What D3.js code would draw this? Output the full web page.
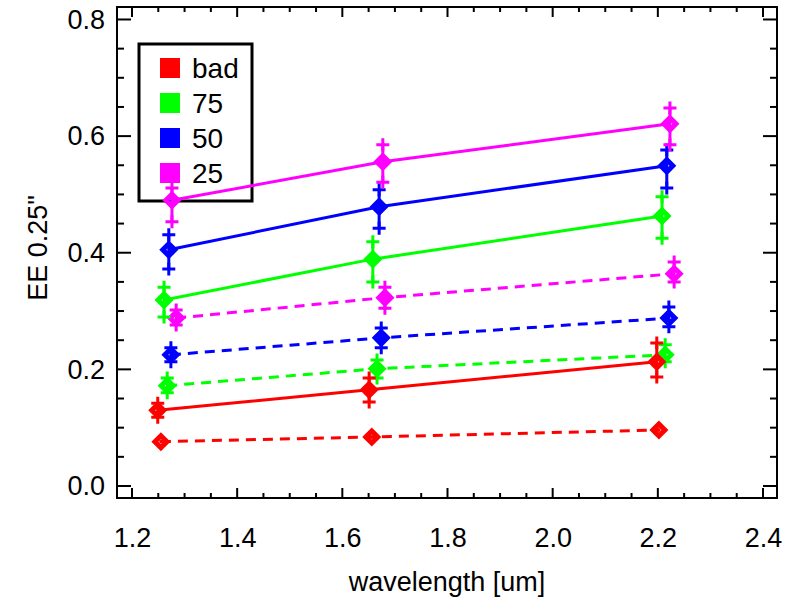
<!DOCTYPE html>
<html>
<head>
<meta charset="utf-8">
<script src="https://cdn.jsdelivr.net/npm/d3@7"></script>
<style>
  html, body { margin: 0; padding: 0; background: #fff; }
  svg { display: block; }
  text { font-family: "Liberation Sans", Arial, Helvetica, sans-serif; fill: #000; }
</style>
</head>
<body>
<svg id="chart" width="787" height="605"></svg>
<script>
// ---- data ----
const seriesLabels = ["bad", "75", "50", "25"];
const seriesColors = ["#ff0000", "#00ff00", "#0000ff", "#ff00ff"];

// solid-line series (x = wavelength in um)
const xSolid  = [[1.249, 1.651, 2.198], [1.261, 1.658, 2.208], [1.270, 1.670, 2.217], [1.276, 1.677, 2.223]];
const ySolid  = [[0.130, 0.165, 0.213], [0.319, 0.389, 0.463], [0.405, 0.479, 0.549], [0.490, 0.556, 0.621]];
const loSolid = [[0.118, 0.144, 0.187], [0.290, 0.350, 0.425], [0.372, 0.442, 0.511], [0.453, 0.521, 0.585]];
const hiSolid = [[0.142, 0.185, 0.245], [0.341, 0.419, 0.496], [0.431, 0.508, 0.576], [0.511, 0.585, 0.648]];

// dashed-line series
const xDashed  = [[1.255, 1.656, 2.202], [1.267, 1.666, 2.214], [1.274, 1.674, 2.221], [1.284, 1.681, 2.231]];
const yDashed  = [[0.076, 0.084, 0.096], [0.172, 0.201, 0.225], [0.225, 0.254, 0.288], [0.288, 0.323, 0.364]];
const loDashed = [[0.073, 0.081, 0.093], [0.160, 0.185, 0.213], [0.213, 0.237, 0.273], [0.276, 0.305, 0.350]];
const hiDashed = [[0.079, 0.087, 0.099], [0.185, 0.216, 0.242], [0.237, 0.271, 0.307], [0.302, 0.341, 0.384]];

const xTicks = [1.2, 1.4, 1.6, 1.8, 2.0, 2.2, 2.4];
const yTicks = [0.0, 0.2, 0.4, 0.6, 0.8];
const xTitle = "wavelength [um]";
const yTitle = "EE 0.25\"";

// ---- layout ----
const svg = d3.select("#chart");
const L = 117, R = 777, T = 7, B = 498;
const x = d3.scaleLinear().domain([1.1715, 2.4266]).range([L, R]);
const y = d3.scaleLinear().domain([-0.0206, 0.8214]).range([B, T]);
const FS = 27;

const axisW = 2;
const xMinor = d3.range(1.2, 2.4001, 0.05).filter(v => v > 1.17 && v < 2.43);
const yMinor = d3.range(0.0, 0.8001, 0.05);

function isMajor(v, arr) { return arr.some(t => Math.abs(t - v) < 1e-6); }

// bottom axis
const gx = svg.append("g").attr("transform", `translate(0,${B})`)
  .call(d3.axisBottom(x).tickValues(xTicks).tickFormat(d3.format(".1f")).tickSize(0).tickPadding(30));
gx.select(".domain").remove();
gx.selectAll("text").attr("font-size", FS).attr("font-family", "Liberation Sans, Arial, sans-serif");

// left axis
const gy = svg.append("g").attr("transform", `translate(${L},0)`)
  .call(d3.axisLeft(y).tickValues(yTicks).tickFormat(d3.format(".1f")).tickSize(0).tickPadding(12));
gy.select(".domain").remove();
gy.selectAll("text").attr("font-size", FS).attr("font-family", "Liberation Sans, Arial, sans-serif");

// tick marks on all four sides (inward)
const tickG = svg.append("g").attr("stroke", "#000").attr("stroke-width", axisW);
xMinor.forEach(v => {
  const len = isMajor(v, xTicks) ? 10 : 5;
  tickG.append("line").attr("x1", x(v)).attr("x2", x(v)).attr("y1", B).attr("y2", B - len);
  tickG.append("line").attr("x1", x(v)).attr("x2", x(v)).attr("y1", T).attr("y2", T + len);
});
yMinor.forEach(v => {
  const len = isMajor(v, yTicks) ? 14 : 7;
  tickG.append("line").attr("y1", y(v)).attr("y2", y(v)).attr("x1", L).attr("x2", L + len);
  tickG.append("line").attr("y1", y(v)).attr("y2", y(v)).attr("x1", R).attr("x2", R - len);
});
svg.append("rect").attr("x", L).attr("y", T).attr("width", R - L).attr("height", B - T)
  .attr("fill", "none").attr("stroke", "#000").attr("stroke-width", axisW);

// axis titles
svg.append("text").attr("x", 447).attr("y", 591).attr("text-anchor", "middle")
  .attr("font-size", FS).text(xTitle);
svg.append("text").attr("transform", `translate(47,${248}) rotate(-90)`).attr("text-anchor", "middle")
  .attr("font-size", FS).text(yTitle);

// legend
const lg = svg.append("g");
lg.append("rect").attr("x", 139).attr("y", 44).attr("width", 113).attr("height", 157)
  .attr("fill", "none").attr("stroke", "#000").attr("stroke-width", 3);
seriesLabels.forEach((lab, i) => {
  const cy = 68 + i * 35;
  lg.append("rect").attr("x", 160).attr("y", cy - 10).attr("width", 20).attr("height", 20).attr("fill", seriesColors[i]);
  lg.append("text").attr("x", 192).attr("y", cy + 10).attr("font-size", 28).text(lab);
});

// data
const line = d3.line().x(d => x(d[0])).y(d => y(d[1]));
function drawSeries(xs, ys, los, his, dashed) {
  xs.forEach((xv, i) => {
    const col = seriesColors[i];
    const pts = xv.map((v, j) => [v, ys[i][j]]);
    const g = svg.append("g");
    g.append("path").attr("d", line(pts)).attr("fill", "none").attr("stroke", col)
      .attr("stroke-width", 3).attr("stroke-dasharray", dashed ? "10,7" : null);
    pts.forEach((p, j) => {
      const px = x(p[0]);
      const yl = y(los[i][j]), yh = y(his[i][j]);
      g.append("line").attr("x1", px).attr("x2", px).attr("y1", yl).attr("y2", yh)
        .attr("stroke", col).attr("stroke-width", 3);
      [yl, yh].forEach(yy => {
        if (Math.abs(yy - y(p[1])) < 4) return;
        g.append("path").attr("d", `M${px - 6.5},${yy}H${px + 6.5}M${px},${yy - 6.5}V${yy + 6.5}`)
          .attr("stroke", col).attr("stroke-width", 3).attr("fill", "none");
      });
      const cx = px, cy = y(p[1]), s = 6;
      g.append("path").attr("d", `M${cx},${cy - s}L${cx + s},${cy}L${cx},${cy + s}L${cx - s},${cy}Z`)
        .attr("stroke", col).attr("stroke-width", 5).attr("fill", "none").attr("stroke-linejoin", "miter");
    });
  });
}
drawSeries(xDashed, yDashed, loDashed, hiDashed, true);
drawSeries(xSolid, ySolid, loSolid, hiSolid, false);
</script>
</body>
</html>
